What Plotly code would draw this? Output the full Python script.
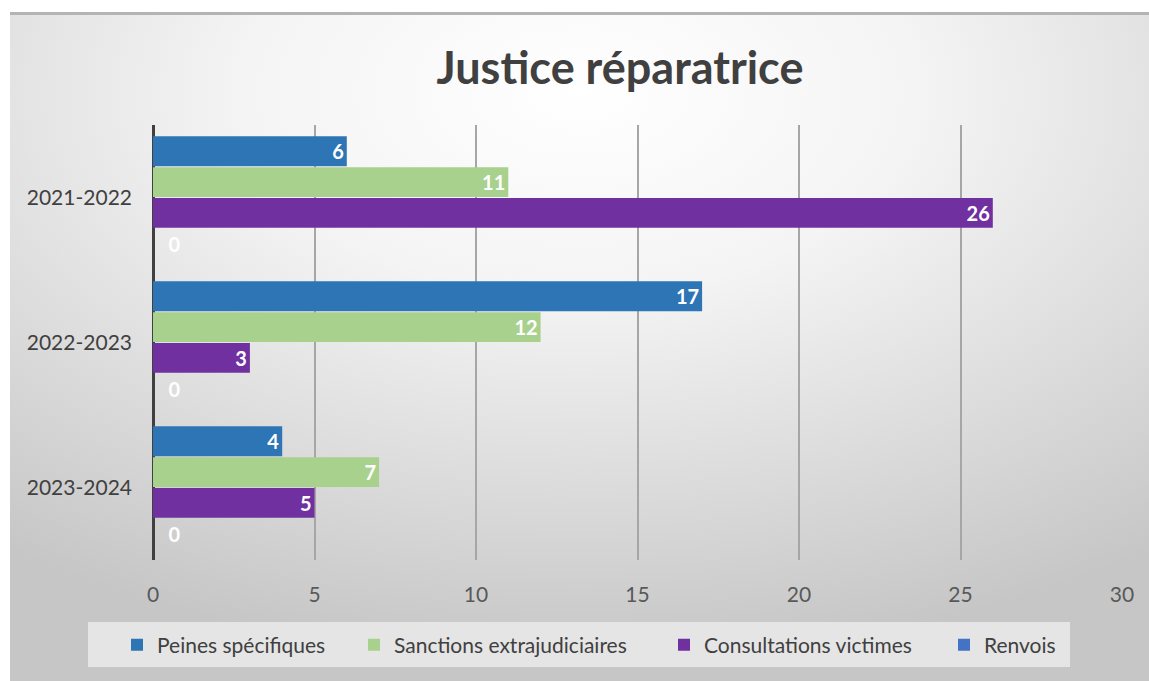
import base64
import plotly.graph_objects as go

categories = ["2021-2022", "2022-2023", "2023-2024"]
series_names = ["Peines spécifiques", "Sanctions extrajudiciaires", "Consultations victimes", "Renvois"]
peines = [6, 17, 4]
sanctions = [11, 12, 7]
consultations = [26, 3, 5]
renvois = [0, 0, 0]
x_ticks = [0, 5, 10, 15, 20, 25, 30]
colors = ["#2E75B6", "#A9D18E", "#7030A0", "#4472C4"]
legend_widths = [192, 265, 235, 90]

W, H = 1149, 681
L, R, T, B = 153, 27, 125, 121
pw, ph = W - L - R, H - T - B

svg = f'''<svg xmlns="http://www.w3.org/2000/svg" width="1139" height="669" viewBox="0 0 1139 669">
<defs><radialGradient id="g" cx="50%" cy="12%" r="85%" fx="50%" fy="12%">
<stop offset="0" stop-color="#ffffff"/><stop offset="0.35" stop-color="#f4f4f4"/>
<stop offset="1" stop-color="#c6c6c6"/></radialGradient></defs>
<rect x="0" y="0" width="1139" height="669" fill="url(#g)"/>
<rect x="0" y="0" width="1139" height="3" fill="#b4b4b4"/>
</svg>'''
src = "data:image/svg+xml;base64," + base64.b64encode(svg.encode()).decode()

def px_x(p):
    return (p - L) / pw

def px_y(p):
    return (H - B - p) / ph

lab_font = dict(color="white", size=20, family="Lato", weight="bold")

fig = go.Figure()
for name, vals, col, lw in zip(series_names, [peines, sanctions, consultations, renvois], colors, legend_widths):
    fig.add_trace(go.Bar(
        y=categories, x=vals, name=name, orientation="h",
        marker=dict(color=col, line=dict(width=0)),
        text=[str(v) for v in vals],
        texttemplate=["%{x}" if v > 0 else "\u2002\u2009%{x}" for v in vals],
        textposition=["inside" if v > 0 else "outside" for v in vals],
        insidetextanchor="end", textangle=0, constraintext="none",
        textfont=lab_font, outsidetextfont=lab_font, insidetextfont=lab_font,
        cliponaxis=False, legendwidth=lw,
    ))

fig.add_layout_image(dict(
    source=src, xref="paper", yref="paper",
    x=px_x(10), y=px_y(12), sizex=1139 / pw, sizey=669 / ph,
    xanchor="left", yanchor="top", sizing="stretch", layer="below",
))
fig.add_shape(type="rect", xref="paper", yref="paper",
              x0=px_x(88), x1=px_x(1070), y0=px_y(667), y1=px_y(622),
              fillcolor="rgba(232,232,232,0.9)", line=dict(width=0), layer="below")

fig.update_layout(
    width=W, height=H,
    margin=dict(l=L, r=R, t=T, b=B, autoexpand=False),
    paper_bgcolor="white", plot_bgcolor="rgba(0,0,0,0)",
    barmode="group", bargap=0.15, bargroupgap=0.03,
    font=dict(family="Lato", color="#595959", size=21),
    title=dict(text="<b>Justice réparatrice</b>", xref="container", x=620 / W, xanchor="center",
               yref="container", y=1 - 68 / H, yanchor="middle",
               font=dict(size=45, color="#404040", family="Lato")),
    xaxis=dict(range=[0, 30], tickvals=x_ticks, showgrid=True, gridcolor="#a6a6a6", gridwidth=1.5,
               zeroline=True, zerolinecolor="#404040", zerolinewidth=3, showline=False,
               ticks="", tickfont=dict(size=21, color="#595959"), ticklabelstandoff=20),
    yaxis=dict(autorange="reversed", showgrid=False, ticks="", showline=False,
               tickfont=dict(size=21, color="#404040"), ticklabelstandoff=20),
    legend=dict(orientation="h", xref="paper", x=px_x(117), xanchor="left",
                yref="paper", y=px_y(645), yanchor="middle",
                bgcolor="rgba(0,0,0,0)", font=dict(size=21, color="#404040"),
                itemwidth=30, tracegroupgap=0),
    showlegend=True,
)

fig.write_html("out.html", config={"displayModeBar": False},
               post_script="document.body.style.margin='0px';")
